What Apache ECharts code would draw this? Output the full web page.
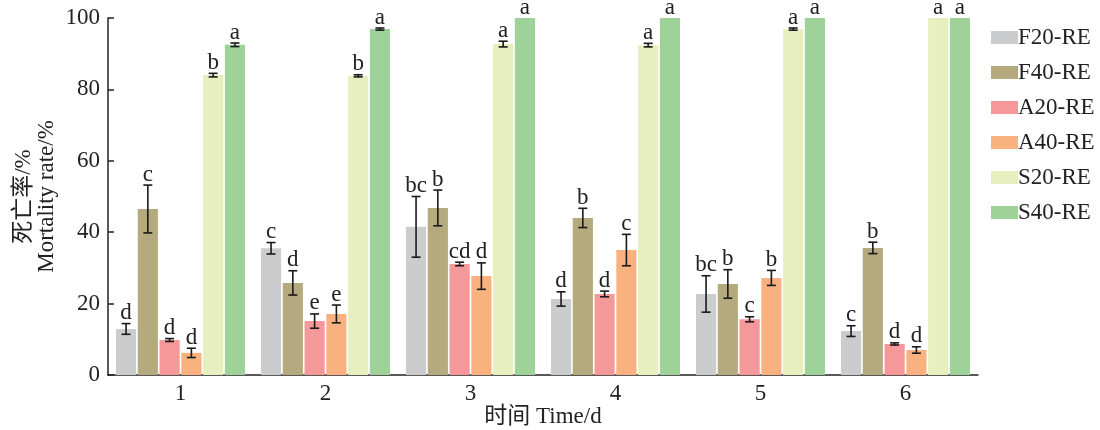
<!DOCTYPE html>
<html>
<head>
<meta charset="utf-8">
<script src="https://cdn.jsdelivr.net/npm/echarts@6/dist/echarts.min.js"></script>
<style>html,body{margin:0;padding:0;background:#fff}#c{width:1100px;height:430px}</style>
</head>
<body>
<div id="c"></div>
<script>
var categories = ['1', '2', '3', '4', '5', '6'];
var seriesNames = ['F20-RE', 'F40-RE', 'A20-RE', 'A40-RE', 'S20-RE', 'S40-RE'];
var yTicks = [0, 20, 40, 60, 80, 100];

var F20 = [12.9, 35.5, 41.5, 21.3, 22.7, 12.3];
var F40 = [46.5, 25.8, 46.8, 44.0, 25.5, 35.6];
var A20 = [9.8, 15.1, 31.1, 22.7, 15.6, 8.7];
var A40 = [6.2, 17.1, 27.7, 35.0, 27.2, 7.0];
var S20 = [84.0, 83.8, 92.7, 92.4, 96.9, 100];
var S40 = [92.5, 96.9, 100, 100, 100, 100];

var F20_err = [1.5, 1.6, 8.5, 2.0, 5.1, 1.5];
var F40_err = [6.7, 3.4, 5.0, 2.7, 4.0, 1.6];
var A20_err = [0.4, 2.0, 0.5, 0.8, 0.7, 0.3];
var A40_err = [1.3, 2.5, 3.7, 4.4, 2.1, 0.9];
var S20_err = [0.5, 0.3, 0.8, 0.5, 0.3, 0];
var S40_err = [0.5, 0.3, 0, 0, 0, 0];

var F20_sig = ['d', 'c', 'bc', 'd', 'bc', 'c'];
var F40_sig = ['c', 'd', 'b', 'b', 'b', 'b'];
var A20_sig = ['d', 'e', 'cd', 'd', 'c', 'd'];
var A40_sig = ['d', 'e', 'd', 'c', 'b', 'd'];
var S20_sig = ['b', 'b', 'a', 'a', 'a', 'a'];
var S40_sig = ['a', 'a', 'a', 'a', 'a', 'a'];

var values = [F20, F40, A20, A40, S20, S40];
var errs = [F20_err, F40_err, A20_err, A40_err, S20_err, S40_err];
var sigs = [F20_sig, F40_sig, A20_sig, A40_sig, S20_sig, S40_sig];
var colors = ['#cbcccd', '#b5aa7d', '#f4989a', '#f9b27f', '#e6efbd', '#9fd298'];

var FONT = '"Liberation Serif", "Times New Roman", "Noto Sans CJK SC", serif';
var FS = 23;
var CAT_GAP = 0.11, BAR_GAP = 0.08, N = seriesNames.length;

var series = [];
seriesNames.forEach(function (name, i) {
  series.push({
    name: name,
    type: 'bar',
    data: values[i],
    barCategoryGap: (CAT_GAP * 100) + '%',
    barGap: (BAR_GAP * 100) + '%',
    itemStyle: { color: colors[i] },
    emphasis: { disabled: true },
    z: 2
  });
});
seriesNames.forEach(function (name, i) {
  series.push({
    name: name + ' err',
    type: 'custom',
    z: 5,
    clip: false,
    data: values[i].map(function (v, k) { return [k, v, errs[i][k]]; }),
    encode: { x: 0, y: 1 },
    renderItem: function (params, api) {
      var k = api.value(0), v = api.value(1), e = api.value(2);
      var cw = api.size([1, 0])[0];
      var usable = cw * (1 - CAT_GAP);
      var bw = usable / (N + (N - 1) * BAR_GAP);
      var center = api.coord([k, 0])[0];
      var x = center - usable / 2 + bw / 2 + i * bw * (1 + BAR_GAP);
      var yTop = api.coord([k, v + e])[1];
      var yBot = api.coord([k, v - e])[1];
      var children = [];
      var ls = { stroke: '#1a1a1a', lineWidth: 1.6 };
      if (e > 0) {
        var cap = 4.5;
        children.push({ type: 'line', shape: { x1: x, y1: yTop, x2: x, y2: yBot }, style: ls });
        children.push({ type: 'line', shape: { x1: x - cap, y1: yTop, x2: x + cap, y2: yTop }, style: ls });
        children.push({ type: 'line', shape: { x1: x - cap, y1: yBot, x2: x + cap, y2: yBot }, style: ls });
      }
      children.push({
        type: 'text',
        style: {
          text: sigs[i][params.dataIndex],
          x: x, y: yTop + 1,
          align: 'center', verticalAlign: 'bottom',
          fontFamily: FONT, fontSize: FS, fill: '#222'
        }
      });
      return { type: 'group', children: children };
    }
  });
});

var option = {
  backgroundColor: '#fff',
  animation: false,
  textStyle: { fontFamily: FONT },
  grid: { left: 108, right: 122, top: 18, bottom: 55, containLabel: false, outerBoundsMode: 'none' },
  legend: {
    data: seriesNames,
    orient: 'vertical',
    left: 986,
    top: 21,
    itemWidth: 27,
    itemHeight: 13,
    itemGap: 12,
    icon: 'rect',
    textStyle: { fontFamily: FONT, fontSize: FS, color: '#222', padding: [0, 0, 0, -5] }
  },
  xAxis: {
    type: 'category',
    data: categories,
    name: '时间 Time/d',
    nameLocation: 'middle',
    nameGap: 30,
    nameMoveOverlap: false,
    nameTextStyle: { fontFamily: FONT, fontSize: FS, color: '#222' },
    axisLine: { lineStyle: { color: '#222', width: 1.5 } },
    axisTick: { inside: true, alignWithLabel: true, length: 6, lineStyle: { color: '#222', width: 1.5 } },
    axisLabel: { fontFamily: FONT, fontSize: FS, color: '#222', margin: 7 }
  },
  yAxis: {
    type: 'value',
    min: yTicks[0],
    max: yTicks[yTicks.length - 1],
    interval: 20,
    name: '死亡率/%\nMortality rate/%',
    nameLocation: 'middle',
    nameRotate: 90,
    nameGap: 50,
    nameMoveOverlap: false,
    nameTextStyle: { fontFamily: FONT, fontSize: FS, color: '#222', lineHeight: 23 },
    axisLine: { show: true, lineStyle: { color: '#222', width: 1.5 } },
    axisTick: { show: true, inside: true, length: 6, lineStyle: { color: '#222', width: 1.5 } },
    splitLine: { show: false },
    axisLabel: { fontFamily: FONT, fontSize: FS, color: '#222', margin: 8 }
  },
  series: series
};

var chart = echarts.init(document.getElementById('c'), null, { renderer: 'canvas' });
chart.setOption(option);
</script>
</body>
</html>
